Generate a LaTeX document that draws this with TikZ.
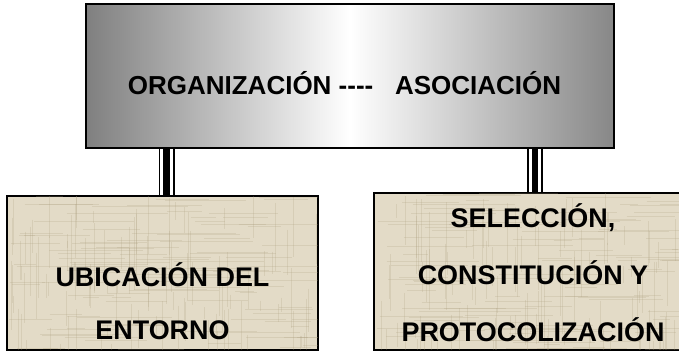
\documentclass[tikz,border=0pt]{standalone}
\usepackage{fontspec}
\setmainfont{Liberation Sans}
\usetikzlibrary{calc}

\definecolor{canvas}{RGB}{227,219,199}
\definecolor{weave}{RGB}{170,156,126}

\tikzset{
  topbox/.style={draw, line width=1.2pt, rectangle, left color=black!50, right color=black!47, middle color=white, inner sep=0pt},
  basebox/.style={draw, line width=1.2pt, rectangle, fill=canvas, inner sep=0pt},
  lbl/.style={font=\fontsize{19.5}{40}\selectfont\bfseries, align=center, inner sep=0pt, text depth=0pt},
  sublbl/.style={lbl, font=\fontsize{20.2}{40}\selectfont\bfseries},
  link/.style={draw=black, line width=12pt, postaction={draw=white, line width=9.4pt}, postaction={draw=black, line width=5.2pt}},
  grain/.style={draw=weave, line width=0.45pt, opacity=0.22}
}

\begin{document}
\begin{tikzpicture}[x=0.75pt, y=-0.75pt]
    \useasboundingbox (0,0) rectangle (679,352);
    \pgfmathsetseed{11}

    \node [topbox, minimum width=396pt, minimum height=108pt] (org) at (350,76) {};
    \node [basebox, minimum width=233.25pt, minimum height=115.5pt] (lft) at (162.5,273) {};
    \node [basebox, minimum width=230.25pt, minimum height=117.75pt] (rgt) at (527.5,271.5) {};

    % canvas texture
    \foreach \bx in {lft,rgt}{
        \begin{scope}
            \clip ([shift={(0.7pt,-0.7pt)}]\bx.north west) rectangle ([shift={(-0.7pt,0.7pt)}]\bx.south east);
            \foreach \i in {1,...,110}{
                \draw [grain] ($(\bx.north west)!rnd!(\bx.south west)$) ++({rnd*300},0) -- ++({15+rnd*90},0);
                \draw [grain] ($(\bx.north west)!rnd!(\bx.north east)$) ++(0,{rnd*150}) -- ++(0,{10+rnd*60});
            }
        \end{scope}
    }

    \draw [link] ([xshift=3pt]lft.north) -- ([xshift=3pt]lft.north |- org.south);
    \draw [link] ([xshift=5.6pt]rgt.north) -- ([xshift=5.6pt]rgt.north |- org.south);

    \node [lbl, anchor=base] (orgtxt) at (344.5,95) {ORGANIZACIÓN -{}-{}-{}-~~~ASOCIACIÓN};
    \node [sublbl, anchor=south] (lfttxt) at (162.5,340) {UBICACIÓN DEL\\ENTORNO};
    \node [sublbl, anchor=south] (rgttxt) at (533,341.5) {SELECCIÓN,\\[2.75pt]CONSTITUCIÓN Y\\[2.75pt]PROTOCOLIZACIÓN};
\end{tikzpicture}
\end{document}
